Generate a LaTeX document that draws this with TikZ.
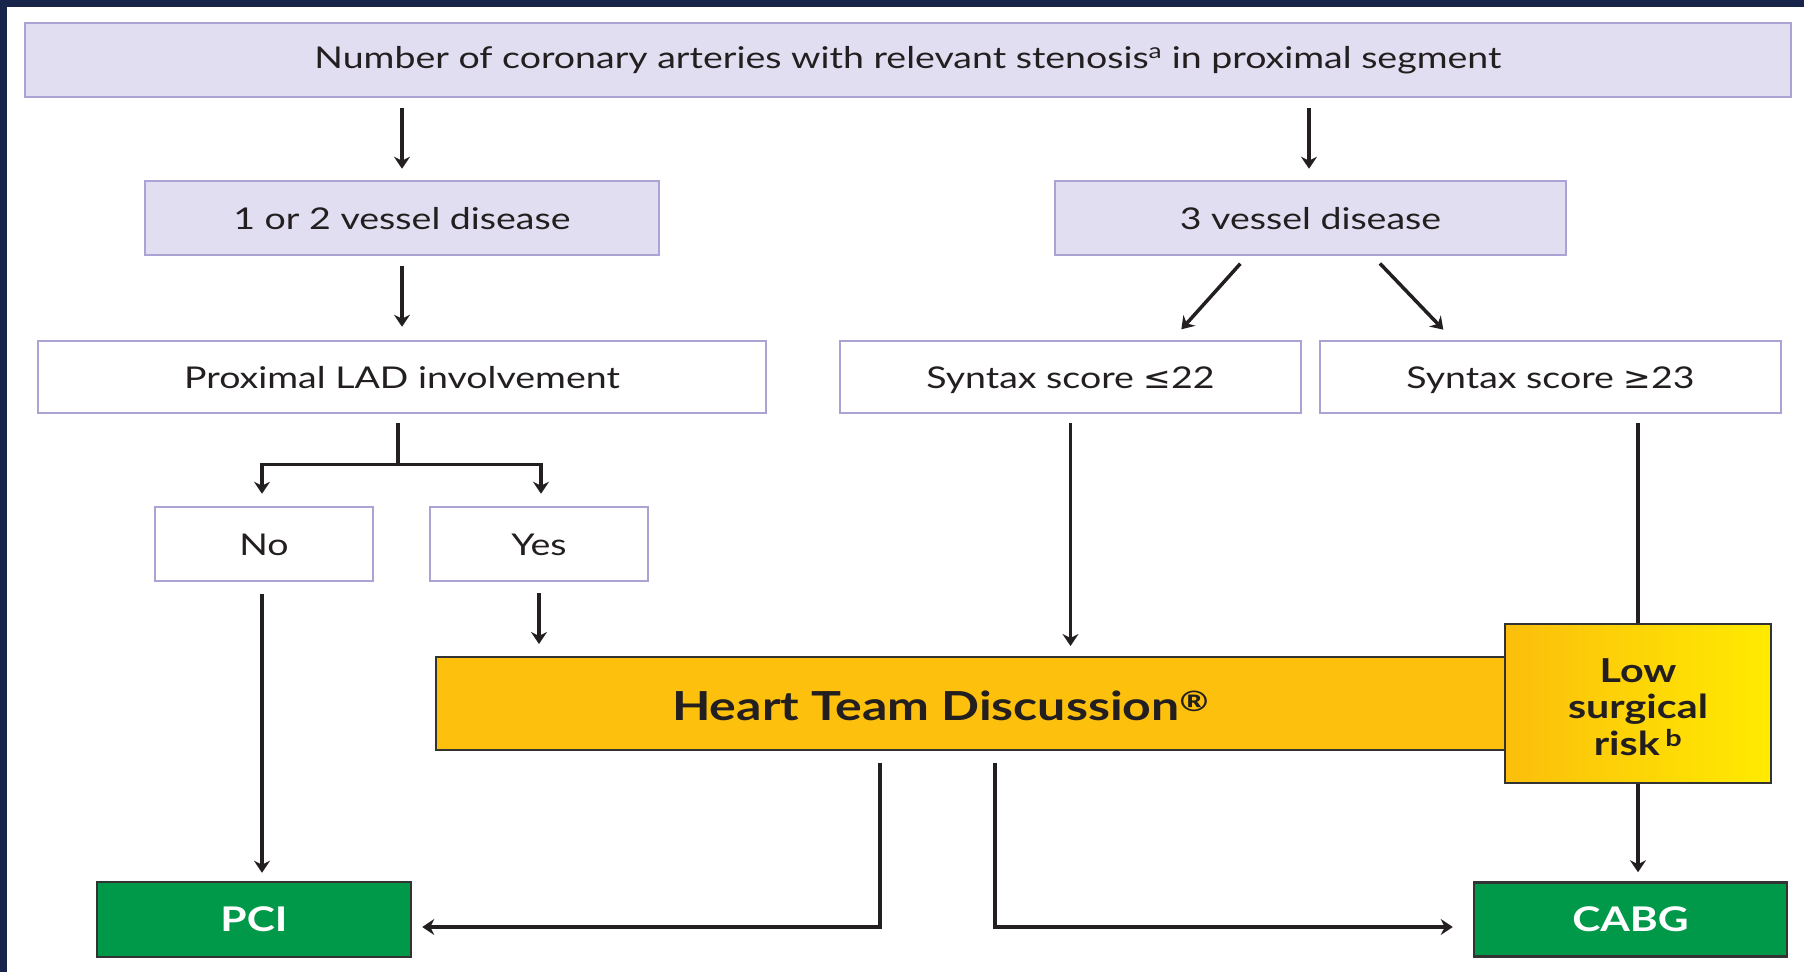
\documentclass[tikz,border=0pt]{standalone}
\usepackage{fontspec}
\setmainfont[FakeStretch=1.25]{Lato}
\newfontfamily\dejavu[FakeStretch=1.1]{DejaVu Sans}
\usetikzlibrary{arrows.meta}
\definecolor{lavfill}{HTML}{E0DEF0}
\definecolor{lavline}{HTML}{A9A4D4}
\definecolor{navy}{HTML}{18244A}
\definecolor{txt}{HTML}{231F20}
\definecolor{heartfill}{HTML}{FDC00C}
\definecolor{lowleft}{HTML}{FBBE0C}
\definecolor{lowright}{HTML}{FFEB00}
\definecolor{grn}{HTML}{009849}
\definecolor{darkline}{HTML}{333333}
\begin{document}
\begin{tikzpicture}[x=1pt,y=-1pt,
  lav/.style={draw=lavline, fill=lavfill, line width=2.5pt, inner sep=0pt, text=txt,
              font=\fontsize{30}{36}\selectfont, text height=28pt, text depth=5pt},
  wbox/.style={lav, fill=white},
  arr/.style={draw=txt, line width=3.5pt, -{Stealth[length=12pt,width=16pt,inset=4pt]}},
  plain/.style={draw=txt, line width=3.5pt},
  greenbox/.style={draw=darkline, fill=grn, line width=2.5pt, inner sep=0pt, text=white,
              font=\bfseries\fontsize{34}{40}\selectfont},
  heartbox/.style={draw=darkline, fill=heartfill, line width=2pt, inner sep=0pt, text=txt,
              font=\bfseries\fontsize{40}{48}\selectfont},
  lowbox/.style={draw=darkline, left color=lowleft, right color=lowright, line width=2pt,
              inner sep=0pt, text=txt,
              font=\bfseries\fontsize{33}{36}\selectfont}
]
\useasboundingbox (0,0) rectangle (1804,972);
\fill[white] (0,0) rectangle (1804,972);
\fill[navy] (0,0) rectangle (1804,7);
\fill[navy] (0,0) rectangle (7,972);

% boxes
\node[lav, text height=22pt, text depth=6pt, minimum width=1766pt, minimum height=74pt] (top) at (908,60)
  {Number of coronary arteries with relevant stenosis\textsuperscript{a} in proximal segment};
\node[lav, minimum width=514pt, minimum height=74pt] (v12) at (402,218) {1 or 2 vessel disease};
\node[lav, minimum width=511pt, minimum height=74pt] (v3) at (1310.5,218) {3 vessel disease};
\node[wbox, minimum width=728pt, minimum height=72pt] (lad) at (402,377) {Proximal LAD involvement};
\node[wbox, minimum width=461pt, minimum height=72pt] (s22) at (1070.5,377) {Syntax score {\dejavu ≤}22};
\node[wbox, minimum width=461pt, minimum height=72pt] (s23) at (1550.5,377) {Syntax score {\dejavu ≥}23};
\node[wbox, minimum width=218pt, minimum height=74pt] (no) at (264,544) {No};
\node[wbox, minimum width=218pt, minimum height=74pt] (yes) at (539,544) {Yes};
\node[heartbox, minimum width=1071pt, minimum height=93pt] (heart) at (971.5,703.5)
  {\raisebox{-2pt}[\height][\depth]{Heart Team Discussion\textsuperscript{\textregistered}}\hspace*{62pt}};
\node[lowbox, minimum width=266pt, minimum height=159pt] (low) at (1638,703.5)
  {\raisebox{-8pt}[\height][\depth]{\begin{tabular}{@{}c@{}}Low\\surgical\\risk\,\textsuperscript{b}\end{tabular}}};
\node[greenbox, minimum width=314pt, minimum height=75pt] (pci) at (254,919.5) {PCI};
\node[greenbox, minimum width=313pt, minimum height=74pt] (cabg) at (1630.5,919.5) {CABG};

% connectors
\draw[arr, shorten <=10pt, shorten >=11pt] (top.south -| v12.north) -- (v12.north);
\draw[arr, shorten <=10pt, shorten >=11pt] (top.south -| 1309,0) -- (v3.north -| 1309,0);
\draw[arr, shorten <=10pt, shorten >=13pt] (v12.south) -- (lad.north);
\draw[arr, shorten <=10pt, shorten >=14pt] (v3.south -| 1247,0) -- (s22.north -| 1172,0);
\draw[arr, shorten <=10pt, shorten >=14pt] (v3.south -| 1373,0) -- (s23.north -| 1453,0);
\draw[arr, shorten <=9pt, shorten >=12pt] (lad.south -| 398,0) -- ++(0,50) -| (no.north -| 262,0);
\draw[arr, shorten <=9pt, shorten >=12pt] (lad.south -| 398,0) -- ++(0,50) -| (yes.north -| 541,0);
\draw[arr, shorten <=12pt, shorten >=8pt] (no.south -| 262,0) -- (pci.north -| 262,0);
\draw[arr, shorten <=11pt, shorten >=12pt] (yes.south) -- (yes.south |- heart.north);
\draw[arr, shorten <=9pt, shorten >=10pt] (s22.south) -- (s22.south |- heart.north);
\draw[plain, shorten <=9pt] (low.north |- s23.south) -- (low.north);
\draw[arr, shorten >=9pt] (low.south) -- (low.south |- cabg.north);
\draw[arr, shorten <=12pt, shorten >=10pt] ([xshift=-91.5pt]heart.south) |- ([yshift=-7.5pt]pci.east);
\draw[arr, shorten <=12pt, shorten >=20pt] ([xshift=23.5pt]heart.south) |- ([yshift=-7.5pt]cabg.west);
\end{tikzpicture}
\end{document}
